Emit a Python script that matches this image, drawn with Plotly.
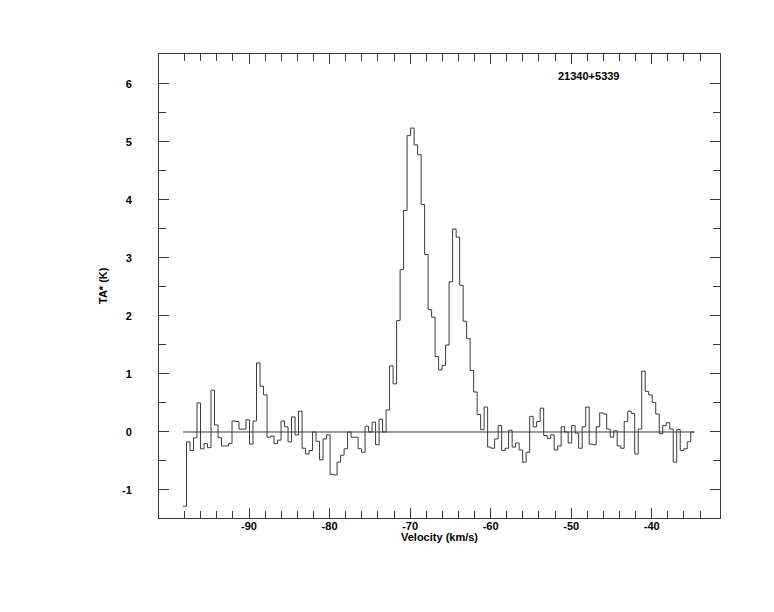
import plotly.graph_objects as go

# ---- data ----
v_start = -98.2          # km/s, left edge of the first channel
channel_width = 0.4348   # km/s
ta_values = [
    -1.28, -0.17, -0.32, -0.10, 0.50, -0.29, -0.20, -0.27, 0.72, 0.12,
    -0.10, -0.24, -0.24, -0.20, 0.19, 0.18, 0.05, 0.05, 0.21, -0.21,
    0.19, 1.19, 0.79, 0.64, -0.09, -0.07, -0.20, -0.14, 0.19, 0.09,
    -0.17, 0.26, -0.05, 0.36, -0.28, -0.38, -0.32, 0.00, -0.16, -0.48,
    -0.12, -0.05, -0.73, -0.74, -0.52, -0.40, -0.29, 0.00, -0.09, -0.09,
    -0.29, -0.35, 0.10, 0.00, 0.17, -0.22, 0.22, 0.00, 0.38, 1.14,
    0.83, 1.92, 2.80, 3.82, 5.11, 5.24, 4.95, 4.78, 3.92, 3.06,
    2.11, 1.98, 1.30, 1.07, 1.15, 1.50, 2.59, 3.50, 3.36, 2.53,
    1.91, 1.61, 1.06, 0.69, 0.30, 0.04, 0.43, -0.26, -0.28, -0.12,
    0.11, -0.32, -0.28, 0.03, -0.26, -0.19, -0.31, -0.52, -0.35, 0.27,
    0.09, 0.18, 0.41, -0.06, -0.11, -0.05, -0.31, -0.24, 0.09, 0.00,
    -0.19, 0.11, -0.02, -0.28, 0.09, 0.43, -0.21, -0.22, 0.09, 0.33,
    0.31, 0.05, -0.09, 0.02, -0.24, -0.28, 0.18, 0.36, 0.32, -0.38,
    0.05, 1.05, 0.70, 0.64, 0.51, 0.31, -0.03, 0.11, 0.16, 0.05,
    -0.52, 0.04, -0.32, -0.29, -0.17, 0.00,
]
x_tick_vals = [-90, -80, -70, -60, -50, -40]
x_tick_text = ["-90", "-80", "-70", "-60", "-50", "-40"]
x_minor_vals = [-98, -96, -94, -92, -88, -86, -84, -82, -78, -76, -74, -72,
                -68, -66, -64, -62, -58, -56, -54, -52, -48, -46, -44, -42,
                -38, -36, -34]
y_tick_vals = [-1, 0, 1, 2, 3, 4, 5, 6]
y_tick_text = ["-1", "0", "1", "2", "3", "4", "5", "6"]
y_minor_vals = [-0.5, 0.5, 1.5, 2.5, 3.5, 4.5, 5.5]
source_name = "21340+5339"
x_title = "Velocity (km/s)"
y_title = "TA* (K)"

# channel edges for the histogram-style step line
n = len(ta_values)
edges = [v_start + channel_width * i for i in range(n + 1)]
step_y = ta_values + [ta_values[-1]]

FONT = "Liberation Sans, Arial, Helvetica, sans-serif"
bold11 = dict(family=FONT, size=11, color="black", weight="bold")
LINE = "#3a3a3a"

fig = go.Figure()
fig.add_trace(go.Scatter(
    x=[edges[0], edges[-1]], y=[0, 0], mode="lines",
    line=dict(color=LINE, width=1), hoverinfo="skip", showlegend=False))
fig.add_trace(go.Scatter(
    x=edges, y=step_y, mode="lines", line_shape="hv",
    line=dict(color=LINE, width=1), showlegend=False))

axis_common = dict(
    showline=True, linecolor=LINE, linewidth=1, mirror="ticks",
    ticks="inside", ticklen=10, tickwidth=1, tickcolor=LINE,
    showgrid=False, zeroline=False, tickfont=bold11,
)

# page has an 8px body margin; plot area is 561 x 464 px
fig.update_layout(
    width=766, height=604,
    margin=dict(l=151, r=54, t=46, b=94),
    paper_bgcolor="white", plot_bgcolor="white",
    xaxis=dict(
        range=[-101.18, -31.52],
        tickmode="array", tickvals=x_tick_vals, ticktext=x_tick_text,
        minor=dict(tickmode="array", tickvals=x_minor_vals, ticks="inside",
                   ticklen=7, tickcolor=LINE, tickwidth=1),
        ticklabelstandoff=-2,
        **axis_common,
    ),
    yaxis=dict(
        range=[-1.483, 6.517],
        tickmode="array", tickvals=y_tick_vals, ticktext=y_tick_text,
        minor=dict(tickmode="array", tickvals=y_minor_vals, ticks="inside",
                   ticklen=7, tickcolor=LINE, tickwidth=1),
        ticklabelstandoff=24,
        **axis_common,
    ),
    annotations=[
        dict(text=source_name, xref="paper", yref="paper",
             x=(556 - 159) / 561, y=(518 - 76) / 464,
             xanchor="left", yanchor="middle", showarrow=False, font=bold11),
        dict(text=x_title, xref="paper", yref="paper", x=0.5, y=0,
             yshift=-18.5, xanchor="center", yanchor="middle",
             showarrow=False, font=bold11),
        dict(text=y_title, xref="paper", yref="paper", x=0, y=0.5,
             xshift=-56, textangle=-90, xanchor="center", yanchor="middle",
             showarrow=False, font=bold11),
    ],
)

fig.write_html("out.html")
